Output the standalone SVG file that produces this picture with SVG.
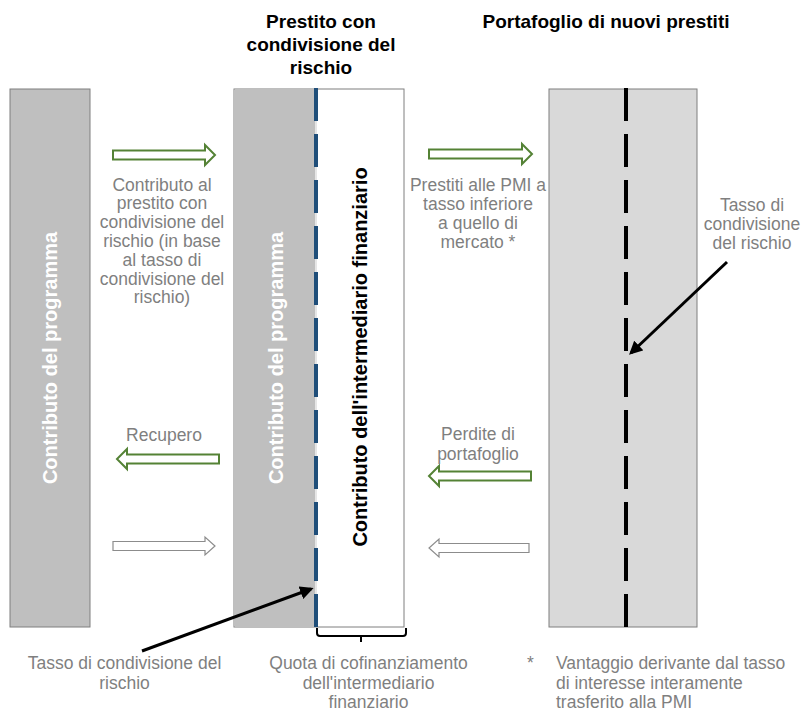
<svg xmlns="http://www.w3.org/2000/svg" width="802" height="711" viewBox="0 0 802 711">
<defs>
<style>
.t{font-family:"Liberation Sans",Arial,sans-serif;font-size:17.5px;fill:#7F7F7F;text-anchor:middle}
.ts{font-family:"Liberation Sans",Arial,sans-serif;font-size:17.5px;fill:#7F7F7F}
.h{font-family:"Liberation Sans",Arial,sans-serif;font-size:19px;font-weight:bold;fill:#000;text-anchor:middle}
.v{font-family:"Liberation Sans",Arial,sans-serif;font-size:20px;font-weight:bold;text-anchor:middle}
.box{stroke:#7F7F7F;stroke-width:1}
.ga{fill:#fff;stroke:#548235;stroke-width:2}
.ya{fill:#fff;stroke:#8C8C8C;stroke-width:1.2}
.ptr{stroke:#000;stroke-width:3;fill:none;marker-end:url(#ah)}
</style>
<marker id="ah" viewBox="0 0 10 10" refX="8" refY="5" markerWidth="4.5" markerHeight="4.5" orient="auto" markerUnits="strokeWidth">
<path d="M0,0 L10,5 L0,10 Z" fill="#000"/>
</marker>
</defs>
<rect width="802" height="711" fill="#fff"/>

<g id="titles">
<text class="h" x="321" y="28">Prestito con</text>
<text class="h" x="321" y="51">condivisione del</text>
<text class="h" x="321" y="74">rischio</text>
<text class="h" x="606" y="28">Portafoglio di nuovi prestiti</text>
</g>

<g id="programma">
<rect class="box" x="10" y="89" width="80" height="538" fill="#BFBFBF"/>
<text class="v" fill="#fff" transform="translate(57,358) rotate(-90)">Contributo del programma</text>
</g>

<g id="prestito">
<rect class="box" x="234" y="89" width="170" height="538" fill="#fff"/>
<rect x="234.5" y="89.5" width="81.5" height="537" fill="#BFBFBF"/>
<line x1="316" y1="89" x2="316" y2="627" stroke="#E6E6E6" stroke-width="2"/>
<line x1="316" y1="88" x2="316" y2="627" stroke="#1F4E79" stroke-width="4" stroke-dasharray="33 13"/>
<text class="v" fill="#fff" transform="translate(283,358) rotate(-90)">Contributo del programma</text>
<text class="v" fill="#000" transform="translate(367,357) rotate(-90)">Contributo dell'intermediario finanziario</text>
<path d="M317,628 L317,633 Q317,636 320,636 L403,636 Q406,636 406,633 L406,628 M361,636 L361,642" fill="none" stroke="#000" stroke-width="2"/>
</g>

<g id="portafoglio">
<rect class="box" x="549" y="89" width="148" height="538" fill="#D9D9D9"/>
<line x1="626" y1="88" x2="626" y2="627" stroke="#000" stroke-width="4" stroke-dasharray="33 13"/>
</g>

<g id="connectors">
<polygon class="ga" points="113,150.5 205,150.5 205,145 215,155 205,165 205,159.5 113,159.5"/>
<polygon class="ga" points="429,149.5 522,149.5 522,144 532,154 522,164 522,158.5 429,158.5"/>
<polygon class="ga" points="219,454.5 127,454.5 127,449 117,459 127,469 127,463.5 219,463.5"/>
<polygon class="ga" points="531,471.5 439,471.5 439,466 429,476 439,486 439,480.5 531,480.5"/>
<polygon class="ya" points="113,541.5 205,541.5 205,537 215,546 205,555 205,550.5 113,550.5"/>
<polygon class="ya" points="529,543.5 439,543.5 439,539 429,548 439,557 439,552.5 529,552.5"/>
<line class="ptr" x1="142" y1="651" x2="311" y2="589"/>
<line class="ptr" x1="727" y1="262" x2="631" y2="353"/>
</g>

<g id="labels">
<text class="t" x="162" y="190.5">Contributo al</text>
<text class="t" x="162" y="209.3">prestito con</text>
<text class="t" x="162" y="228.1">condivisione del</text>
<text class="t" x="162" y="246.9">rischio (in base</text>
<text class="t" x="162" y="265.7">al tasso di</text>
<text class="t" x="162" y="284.5">condivisione del</text>
<text class="t" x="162" y="303.3">rischio)</text>

<text class="t" x="478" y="191">Prestiti alle PMI a</text>
<text class="t" x="478" y="210">tasso inferiore</text>
<text class="t" x="478" y="229">a quello di</text>
<text class="t" x="478" y="248">mercato *</text>

<text class="t" x="752" y="211">Tasso di</text>
<text class="t" x="752" y="230">condivisione</text>
<text class="t" x="752" y="249">del rischio</text>

<text class="t" x="164" y="441">Recupero</text>
<text class="t" x="478" y="440">Perdite di</text>
<text class="t" x="478" y="460">portafoglio</text>

<text class="t" x="124.5" y="669">Tasso di condivisione del</text>
<text class="t" x="124.5" y="688.5">rischio</text>

<text class="t" x="368.5" y="669">Quota di cofinanziamento</text>
<text class="t" x="368.5" y="688.5">dell'intermediario</text>
<text class="t" x="368.5" y="708">finanziario</text>

<text class="ts" x="527" y="669">*</text>
<text class="ts" x="556" y="669">Vantaggio derivante dal tasso</text>
<text class="ts" x="556" y="688.5">di interesse interamente</text>
<text class="ts" x="556" y="708">trasferito alla PMI</text>
</g>
</svg>
